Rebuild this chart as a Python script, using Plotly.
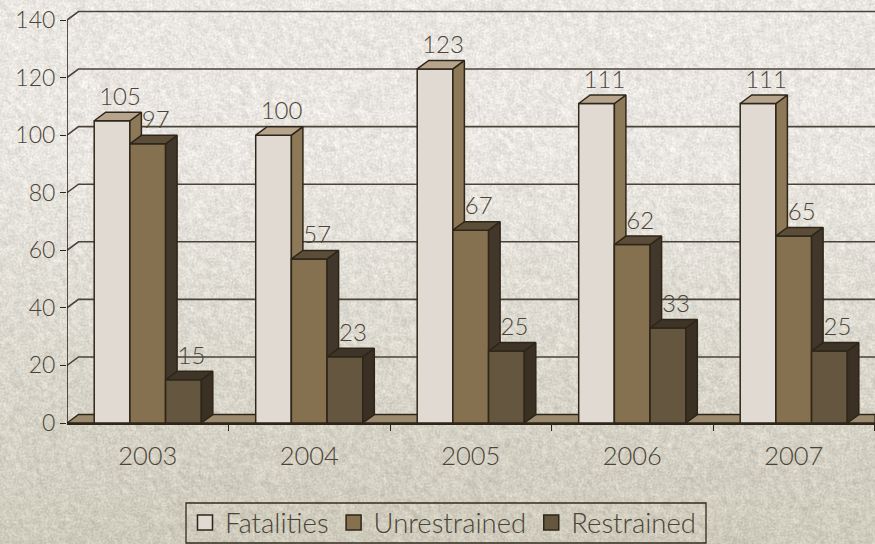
import base64, struct, zlib
import numpy as np
import plotly.graph_objects as go

years = [2003, 2004, 2005, 2006, 2007]
series_names = ["Fatalities", "Unrestrained", "Restrained"]
fatalities = [105, 100, 123, 111, 111]
unrestrained = [97, 57, 67, 62, 65]
restrained = [15, 23, 25, 33, 25]
y_ticks = [0, 20, 40, 60, 80, 100, 120, 140]

W, H = 875, 544
L, T, B = 67, 10, 121
PW, PH = W - L, H - T - B
PX_PER_UNIT = 403 / 140
Y_TOP = PH / PX_PER_UNIT
PX_PER_YEAR = 161.5
X0 = years[0] - 0.5
X1 = X0 + PW / PX_PER_YEAR
DX = 11.5 / PX_PER_YEAR
DY = 8.5 / PX_PER_UNIT
BAR_W = 35.7 / PX_PER_YEAR

FRONT = ["#e0dad3", "#85714f", "#65573f"]
TOP = ["#b6a58c", "#5c4d38", "#3e3427"]
SIDE = ["#8d7858", "#41372a", "#3a3024"]
EDGE = "#2e2619"
TEXT = "#4a4336"
FONT = "Lato Light, Lato"


def texture():
    yy, xx = np.mgrid[0:H, 0:W].astype(float)
    h = np.sin(xx * 12.9898 + yy * 78.233) * 43758.5453
    h = h - np.floor(h)
    fine = sum(np.roll(np.roll(h, a, 0), b, 1) for a in (0, 1) for b in (0, 1)) / 4
    coarse = sum(np.roll(np.roll(h, a, 0), b, 1) for a in range(5) for b in range(5)) / 25
    t = np.clip((yy - 150) / 450, 0, 1)
    base = np.stack([234 - 32 * t, 231 - 33 * t, 226 - 44 * t], -1)
    n = (fine - 0.5) * 36 + (coarse - 0.5) * 40
    img = np.clip(base + n[..., None], 0, 255).astype(np.uint8)
    raw = b"".join(b"\x00" + img[r].tobytes() for r in range(H))

    def chunk(tag, data):
        return struct.pack(">I", len(data)) + tag + data + struct.pack(">I", zlib.crc32(tag + data))

    png = (b"\x89PNG\r\n\x1a\n" + chunk(b"IHDR", struct.pack(">IIBBBBB", W, H, 8, 2, 0, 0, 0))
           + chunk(b"IDAT", zlib.compress(raw, 9)) + chunk(b"IEND", b""))
    return "data:image/png;base64," + base64.b64encode(png).decode()


def paper_x(px):
    return (px - L) / PW


def paper_y(px):
    return (T + PH - px) / PH


fig = go.Figure()

# back wall gridlines, floor and the front vertical axis
for v in y_ticks[1:]:
    fig.add_trace(go.Scatter(x=[X0, X0 + DX, X1], y=[v, v + DY, v + DY], mode="lines",
                             line=dict(color="#4a4338", width=1.6), cliponaxis=False,
                             showlegend=False, hoverinfo="skip"))
fig.add_trace(go.Scatter(x=[X0, X0 + DX, X1, X1, X0], y=[0, DY, DY, 0, 0], mode="lines",
                         fill="toself", fillcolor="#9b8a6e", line=dict(color=EDGE, width=1.4),
                         showlegend=False, hoverinfo="skip"))
fig.add_trace(go.Scatter(x=[X0, X0], y=[y_ticks[0], y_ticks[-1]], mode="lines",
                         line=dict(color=EDGE, width=1.6), cliponaxis=False,
                         showlegend=False, hoverinfo="skip"))

all_values = [fatalities, unrestrained, restrained]
for i, values in enumerate(all_values):
    ax = str(i + 2)
    left = -1.5 * BAR_W + i * BAR_W
    fig.add_trace(go.Bar(x=years, y=values, width=BAR_W, offset=left, xaxis="x" + ax, yaxis="y" + ax,
                         marker=dict(color=FRONT[i], line=dict(color=EDGE, width=1.5)),
                         showlegend=False, hoverinfo="skip"))
    for yr, v in zip(years, values):
        xl, xr = yr + left, yr + left + BAR_W
        fig.add_trace(go.Scatter(x=[xr, xr + DX, xr + DX, xr, xr], y=[0, DY, v + DY, v, 0],
                                 mode="lines", fill="toself", fillcolor=SIDE[i],
                                 line=dict(color=EDGE, width=1.5), cliponaxis=False,
                                 xaxis="x" + ax, yaxis="y" + ax, showlegend=False, hoverinfo="skip"))
        fig.add_trace(go.Scatter(x=[xl, xl + DX, xr + DX, xr, xl], y=[v, v + DY, v + DY, v, v],
                                 mode="lines", fill="toself", fillcolor=TOP[i],
                                 line=dict(color=EDGE, width=1.5), cliponaxis=False,
                                 xaxis="x" + ax, yaxis="y" + ax, showlegend=False, hoverinfo="skip"))

# data labels, above every bar
for i, values in enumerate(all_values):
    left = -1.5 * BAR_W + i * BAR_W
    fig.add_trace(go.Scatter(x=[yr + left + BAR_W / 2 + 8 / PX_PER_YEAR for yr in years],
                             y=[v + 7.6 for v in values], text=[str(v) for v in values],
                             mode="text", textposition="middle center",
                             textfont=dict(family=FONT, size=24, color=TEXT), cliponaxis=False,
                             xaxis="x5", yaxis="y5", showlegend=False, hoverinfo="skip"))

# legend keys
for i, name in enumerate(series_names):
    fig.add_trace(go.Scatter(x=[None], y=[None], name=name, mode="markers",
                             marker=dict(symbol="square", size=15, color=FRONT[i],
                                         line=dict(color=EDGE, width=1.5))))

layout = dict(
    width=W, height=H, margin=dict(l=L, r=0, t=T, b=B, pad=0, autoexpand=False),
    paper_bgcolor="#d8d4c8", plot_bgcolor="rgba(0,0,0,0)",
    font=dict(family=FONT, size=24, color=TEXT), barmode="overlay",
    xaxis=dict(range=[X0, X1], tickvals=years, ticktext=[str(y) for y in years], ticks="",
               showgrid=False, zeroline=False, showline=True, linecolor=EDGE, linewidth=1.5,
               ticklabelstandoff=10, tickfont=dict(family=FONT, size=25.5, color=TEXT),
               minor=dict(tickvals=[y + 0.5 for y in years], ticks="outside", ticklen=6,
                          tickcolor=EDGE, tickwidth=1.2, showgrid=False)),
    yaxis=dict(range=[0, Y_TOP], tickvals=y_ticks, ticks="outside", ticklen=6, tickcolor=EDGE,
               tickwidth=1.4, showgrid=False, zeroline=False, showline=False,
               tickfont=dict(family=FONT, size=23, color=TEXT)),
    legend=dict(orientation="h", x=paper_x(443), xanchor="center", y=paper_y(498), yanchor="top",
                bgcolor="rgba(0,0,0,0)", borderwidth=0,
                font=dict(family=FONT, size=27.5, color=TEXT), itemwidth=30, tracegroupgap=0),
    shapes=[dict(type="rect", xref="paper", yref="paper", x0=paper_x(186), x1=paper_x(706),
                 y0=paper_y(543), y1=paper_y(503), line=dict(color="#332b1f", width=1.3),
                 fillcolor="rgba(0,0,0,0)", layer="above")],
    images=[dict(source=texture(), xref="paper", yref="paper", x=-L / PW, y=(PH + T) / PH,
                 sizex=W / PW, sizey=H / PH, sizing="stretch", xanchor="left", yanchor="top",
                 layer="below")],
)
for k in range(2, 6):
    layout["xaxis" + str(k)] = dict(range=[X0, X1], overlaying="x", visible=False)
    layout["yaxis" + str(k)] = dict(range=[0, Y_TOP], overlaying="y", visible=False)
fig.update_layout(**layout)
fig.write_html("out.html", config=dict(displayModeBar=False), post_script="document.body.style.margin='0';")
